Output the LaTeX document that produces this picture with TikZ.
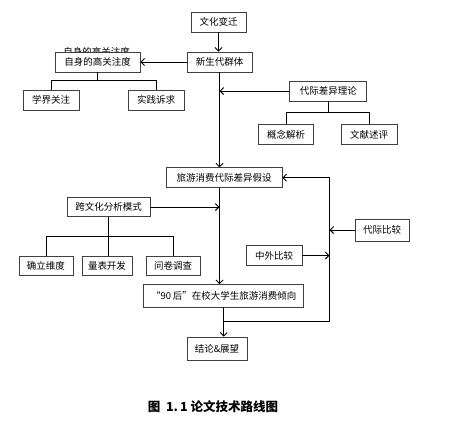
\documentclass[tikz,border=0pt]{standalone}
\usepackage{fontspec}
\setmainfont{Noto Sans CJK SC}
\usepackage{tikz}
\usetikzlibrary{positioning, arrows.meta, calc}

\tikzset{
  box/.style={draw=black!75, fill=white, line width=0.8pt, inner sep=0pt,
    minimum height=20pt, font=\fontsize{9.5}{11}\selectfont},
  link/.style={draw=black, line width=0.9pt},
  >={Straight Barb[length=3.5pt,width=7pt]}
}

\begin{document}
\begin{tikzpicture}[x=1pt, y=-1pt]
\useasboundingbox (0,0) rectangle (464,421);
% top branch
\node[font=\fontsize{9.5}{11}\selectfont] (ghost) at (96.5,51.5) {自身的高关注度};
\node[box, minimum width=55pt] (wenhua) at (218.5,22) {文化变迁};
\node[box, minimum width=65pt] (xinsheng) at (219.5,62) {新生代群体};
\node[box, minimum width=85pt] (zishen) at (97.5,62) {自身的高关注度};
\node[box, minimum width=56pt] (xuejie) at (51,100) {学界关注};
\node[box, minimum width=56pt] (shijian) at (156,100) {实践诉求};
\node[box, minimum width=77pt] (lilun) at (328.3,91) {代际差异理论};
\node[box, minimum width=55pt] (gainian) at (286,134.5) {概念解析};
\node[box, minimum width=56pt] (wenxian) at (369,134.5) {文献述评};

% middle
\node[box, minimum width=116pt] (jiashe) at (224,177.7) {旅游消费代际差异假设};
\node[box, minimum width=83pt, minimum height=19pt] (kuawenhua) at (108.5,207) {跨文化分析模式};
\node[box, minimum width=54pt, minimum height=19pt] (queli) at (46,266) {确立维度};
\node[box, minimum width=50pt, minimum height=19pt] (liangbiao) at (107,266) {量表开发};
\node[box, minimum width=54pt, minimum height=19pt] (wenjuan) at (173,266) {问卷调查};
\node[box, minimum width=54pt, minimum height=22pt] (bijiao) at (382,230) {代际比较};
\node[box, minimum width=56pt] (zhongwai) at (274,255.5) {中外比较};

% bottom
\node[box, minimum width=160pt, minimum height=22.5pt] (jiuling) at (223.7,295.7) {“90\,后”在校大学生旅游消费倾向};
\node[box, minimum width=60pt, minimum height=23pt] (jielun) at (217,348.5) {结论\&展望};
\coordinate (turn) at (329.5,321);

\node[font=\fontsize{12.5}{14}\selectfont\bfseries] (caption) at (213,407) {图\ \ 1.\,1\ 论文技术路线图};

% connectors
\draw[link, ->] (wenhua.south -| 218.5,0) -- (xinsheng.north -| 218.5,0);
\draw[link, ->] (xinsheng.west) -- (zishen.east);
\draw[link] (zishen.south) -- ++(0,8) -| (xuejie.north);
\draw[link] (zishen.south) -- ++(0,8) -| (shijian.north);
\draw[link, ->] (xinsheng.south) -- (xinsheng.south |- jiashe.north);
\draw[link, ->] (lilun.west) -- (lilun.west -| xinsheng.south);
\draw[link] (lilun.south) -- ++(0,11.5) -| (gainian.north);
\draw[link] (lilun.south) -- ++(0,11.5) -| (wenxian.north);

\draw[link, ->] (jiashe.south -| xinsheng.south) -- (xinsheng.south |- jiuling.north);
\draw[link, ->] (kuawenhua.east) -- (kuawenhua.east -| xinsheng.south);
\draw[link] (kuawenhua.south) -- ++(0,20) -| (queli.north);
\draw[link] (kuawenhua.south) -- (liangbiao.north -| kuawenhua.south);
\draw[link] (kuawenhua.south) -- ++(0,20) -| (wenjuan.north);

\draw[link, ->] (jiuling.south) -- (jiuling.south |- jielun.north);
\draw[link, ->] (jiuling.south |- turn) -- (turn) -- (turn |- jiashe.east) -- (jiashe.east);
\draw[link, ->] (bijiao.west) -- (bijiao.west -| turn);
\draw[link, ->] (zhongwai.east) -- (zhongwai.east -| turn);
\end{tikzpicture}
\end{document}
